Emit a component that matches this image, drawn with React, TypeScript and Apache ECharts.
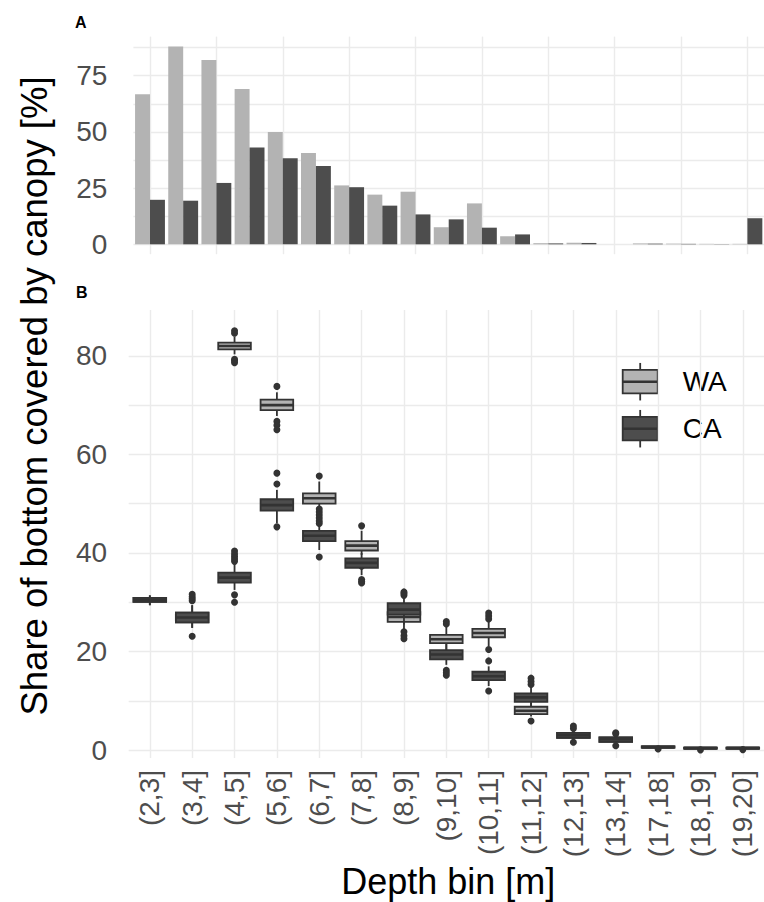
import React, { useEffect, useRef } from 'react';
import * as echarts from 'echarts';

// ---------- Panel A: share of bottom covered by canopy, per depth bin ----------
const topCategories = [
  '(2,3]', '(3,4]', '(4,5]', '(5,6]', '(6,7]', '(7,8]', '(8,9]', '(9,10]', '(10,11]', '(11,12]',
  '(12,13]', '(13,14]', '(14,15]', '(15,16]', '(16,17]', '(17,18]', '(18,19]', '(19,20]', '(20,21]',
];
const waShare = [66.7, 88.0, 82.0, 69.1, 50.0, 40.6, 26.2, 22.1, 23.4, 7.6, 18.2, 3.6, 0.5, 0.7, 0, 0.4, 0.3, 0.2, 0.2];
const caShare = [19.8, 19.4, 27.3, 43.1, 38.3, 34.8, 25.4, 17.2, 13.3, 11.1, 7.4, 4.4, 0.4, 0.6, 0, 0.3, 0.2, 0.1, 11.6];
const topTickLabels = [0, 25, 50, 75];
const topGridValues = [0, 12.5, 25, 37.5, 50, 62.5, 75, 87.5];

// ---------- Panel B: boxplots [low whisker, Q1, median, Q3, high whisker] ----------
const boxCategories = [
  '(2,3]', '(3,4]', '(4,5]', '(5,6]', '(6,7]', '(7,8]', '(8,9]', '(9,10]', '(10,11]', '(11,12]',
  '(12,13]', '(13,14]', '(17,18]', '(18,19]', '(19,20]',
];
const waBoxes = [
  [29.4, 30.1, 30.5, 30.9, 31.4],
  [24.8, 25.9, 26.9, 27.9, 29.4],
  [80.3, 81.3, 82.0, 82.7, 83.9],
  [67.8, 69.0, 70.0, 71.1, 72.6],
  [49.2, 50.0, 51.1, 52.1, 54.5],
  [39.6, 40.5, 41.5, 42.4, 44.5],
  [24.5, 26.0, 27.0, 28.0, 30.0],
  [20.0, 21.7, 22.5, 23.4, 25.0],
  [21.0, 22.9, 23.75, 24.6, 26.0],
  [6.8, 7.3, 8.0, 8.8, 9.6],
  [2.0, 2.5, 3.0, 3.5, 4.0],
  [1.2, 1.7, 2.2, 2.6, 3.0],
  [0.4, 0.5, 0.6, 0.75, 0.85],
  [0.2, 0.3, 0.4, 0.5, 0.6],
  [0.2, 0.3, 0.4, 0.5, 0.6],
];
const caBoxes = [
  [29.4, 30.1, 30.5, 30.9, 31.4],
  [24.8, 25.9, 26.9, 27.9, 29.4],
  [32.5, 34.0, 35.0, 36.0, 37.6],
  [46.0, 48.6, 49.7, 50.9, 52.8],
  [40.6, 42.4, 43.5, 44.5, 46.5],
  [35.5, 37.0, 38.0, 38.9, 40.0],
  [25.5, 27.5, 28.5, 29.8, 30.8],
  [17.3, 18.4, 19.4, 20.3, 21.5],
  [13.0, 14.2, 15.0, 15.9, 17.0],
  [9.0, 9.8, 10.7, 11.5, 12.6],
  [2.0, 2.5, 3.0, 3.5, 4.0],
  [1.2, 1.7, 2.2, 2.6, 3.0],
  [0.4, 0.5, 0.6, 0.75, 0.85],
  [0.2, 0.3, 0.4, 0.5, 0.6],
  [0.2, 0.3, 0.4, 0.5, 0.6],
];
// outliers as [category index, value]
const waOutliers = [
  [2, 84.6], [2, 85.1], [2, 79.3], [2, 78.6], [2, 79.0],
  [3, 73.8], [3, 66.7], [3, 65.9], [3, 65.0],
  [4, 55.6], [4, 48.9], [4, 48.3], [4, 47.7], [4, 47.1], [4, 46.5], [4, 46.0],
  [5, 45.5], [5, 37.3],
  [7, 26.1], [7, 25.6],
  [8, 26.6], [8, 27.2], [8, 27.8], [8, 20.4],
  [9, 5.9],
];
const caOutliers = [
  [1, 30.3], [1, 30.7], [1, 31.1], [1, 31.6], [1, 23.1],
  [2, 38.3], [2, 38.8], [2, 39.3], [2, 39.8], [2, 40.4], [2, 31.5], [2, 30.0],
  [3, 54.0], [3, 56.2], [3, 45.3],
  [4, 39.2],
  [5, 34.6], [5, 34.2], [5, 33.9],
  [6, 31.4], [6, 31.8], [6, 32.1], [6, 24.0], [6, 23.2], [6, 22.6],
  [7, 16.2], [7, 15.7], [7, 15.2],
  [8, 18.1], [8, 12.0],
  [9, 13.3], [9, 13.9], [9, 14.6],
  [10, 4.4], [10, 4.9], [10, 1.6],
  [11, 3.3], [11, 3.5], [11, 0.9],
  [12, 0.25], [13, 0.05], [14, 0.1],
];
const boxTickLabels = [0, 20, 40, 60, 80];
const boxGridValues = [0, 10, 20, 30, 40, 50, 60, 70, 80];

const seriesNames = ['WA', 'CA'];
const LIGHT = '#B3B3B3';
const DARK = '#4D4D4D';
const EDGE = '#333333';
const GRID = '#EBEBEB';
const FONT = '"Liberation Sans", Arial, Helvetica, sans-serif';

function boxRenderer(fill: string) {
  return (_params: any, api: any) => {
    const x = api.value(0);
    const low = api.coord([x, api.value(1)]);
    const q1 = api.coord([x, api.value(2)]);
    const med = api.coord([x, api.value(3)]);
    const q3 = api.coord([x, api.value(4)]);
    const high = api.coord([x, api.value(5)]);
    const bw = api.size([1, 0])[0] * 0.77;
    const cx = low[0];
    return {
      type: 'group',
      children: [
        { type: 'line', shape: { x1: cx, y1: high[1], x2: cx, y2: q3[1] }, style: { stroke: EDGE, lineWidth: 1.8 } },
        { type: 'line', shape: { x1: cx, y1: q1[1], x2: cx, y2: low[1] }, style: { stroke: EDGE, lineWidth: 1.8 } },
        {
          type: 'rect',
          shape: { x: cx - bw / 2, y: q3[1], width: bw, height: Math.max(q1[1] - q3[1], 0.5) },
          style: { fill, stroke: EDGE, lineWidth: 1.8 },
        },
        { type: 'line', shape: { x1: cx - bw / 2, y1: med[1], x2: cx + bw / 2, y2: med[1] }, style: { stroke: EDGE, lineWidth: 2.6 } },
      ],
    };
  };
}

function legendKey(y: number, fill: string, label: string) {
  const x0 = 622.7;
  const w = 35;
  const h = 23.5;
  const cx = x0 + w / 2;
  return [
    { type: 'line', shape: { x1: cx, y1: y - h / 2 - 7, x2: cx, y2: y + h / 2 + 7 }, style: { stroke: EDGE, lineWidth: 1.8 } },
    { type: 'rect', shape: { x: x0, y: y - h / 2, width: w, height: h }, style: { fill, stroke: EDGE, lineWidth: 1.8 } },
    { type: 'line', shape: { x1: x0, y1: y, x2: x0 + w, y2: y }, style: { stroke: EDGE, lineWidth: 2.4 } },
    {
      type: 'text',
      x: 682.7,
      y,
      style: { text: label, fontSize: 28, fontFamily: FONT, fill: '#000', textAlign: 'left', textVerticalAlign: 'middle' },
    },
  ];
}

export default function App() {
  const ref = useRef<HTMLDivElement>(null);

  useEffect(() => {
    if (!ref.current) return;
    const chart = echarts.init(ref.current, undefined, { renderer: 'svg' });

    const axisLabelStyle = { color: DARK, fontSize: 28, fontFamily: FONT };

    const option: any = {
      animation: false,
      backgroundColor: '#FFFFFF',
      grid: [
        { left: 133.4, top: 36.6, width: 632.1, height: 217.6 },
        { left: 128.65, top: 310, width: 640.5, height: 448 },
      ],
      xAxis: [
        {
          type: 'category',
          gridIndex: 0,
          data: topCategories,
          axisLine: { show: false },
          axisTick: { show: false, alignWithLabel: true },
          axisLabel: { show: false },
          splitLine: { show: true, alignWithLabel: true, lineStyle: { color: GRID, width: 1.4 } },
        },
        {
          type: 'category',
          gridIndex: 1,
          data: boxCategories,
          axisLine: { show: false },
          axisTick: { show: false, alignWithLabel: true },
          axisLabel: { ...axisLabelStyle, rotate: 90, margin: 12, interval: 0 },
          splitLine: { show: true, alignWithLabel: true, lineStyle: { color: GRID, width: 1.4 } },
        },
      ],
      yAxis: [
        {
          type: 'value',
          gridIndex: 0,
          min: -4.4,
          max: 92.4,
          axisLine: { show: false },
          axisTick: { show: false, customValues: topGridValues },
          axisLabel: { ...axisLabelStyle, margin: 26, customValues: topTickLabels },
          splitLine: { show: true, lineStyle: { color: GRID, width: 1.4 } },
        },
        {
          type: 'value',
          gridIndex: 1,
          min: -1.6,
          max: 89.3,
          axisLine: { show: false },
          axisTick: { show: false, customValues: boxGridValues },
          axisLabel: { ...axisLabelStyle, margin: 21.5, customValues: boxTickLabels },
          splitLine: { show: true, lineStyle: { color: GRID, width: 1.4 } },
        },
      ],
      series: [
        {
          name: seriesNames[0],
          type: 'bar',
          xAxisIndex: 0,
          yAxisIndex: 0,
          data: waShare,
          barGap: '0%',
          barCategoryGap: '10%',
          itemStyle: { color: LIGHT },
        },
        {
          name: seriesNames[1],
          type: 'bar',
          xAxisIndex: 0,
          yAxisIndex: 0,
          data: caShare,
          barGap: '0%',
          barCategoryGap: '10%',
          itemStyle: { color: DARK },
        },
        {
          name: seriesNames[0] + ' box',
          type: 'custom',
          xAxisIndex: 1,
          yAxisIndex: 1,
          renderItem: boxRenderer(LIGHT),
          encode: { x: 0, y: [1, 2, 3, 4, 5] },
          data: waBoxes.map((b, i) => [i, ...b]),
          z: 3,
        },
        {
          name: seriesNames[0] + ' outliers',
          type: 'scatter',
          xAxisIndex: 1,
          yAxisIndex: 1,
          data: waOutliers,
          symbol: 'circle',
          symbolSize: 7,
          itemStyle: { color: EDGE, opacity: 1 },
          z: 3,
        },
        {
          name: seriesNames[1] + ' box',
          type: 'custom',
          xAxisIndex: 1,
          yAxisIndex: 1,
          renderItem: boxRenderer(DARK),
          encode: { x: 0, y: [1, 2, 3, 4, 5] },
          data: caBoxes.map((b, i) => [i, ...b]),
          z: 4,
        },
        {
          name: seriesNames[1] + ' outliers',
          type: 'scatter',
          xAxisIndex: 1,
          yAxisIndex: 1,
          data: caOutliers,
          symbol: 'circle',
          symbolSize: 7,
          itemStyle: { color: EDGE, opacity: 1 },
          z: 4,
        },
      ],
      graphic: [
        {
          type: 'text',
          x: 75,
          y: 22,
          style: { text: 'A', fontSize: 16, fontWeight: 'bold', fontFamily: FONT, fill: '#000', textVerticalAlign: 'middle' },
        },
        {
          type: 'text',
          x: 76,
          y: 292.5,
          style: { text: 'B', fontSize: 16, fontWeight: 'bold', fontFamily: FONT, fill: '#000', textVerticalAlign: 'middle' },
        },
        {
          type: 'text',
          x: 34,
          y: 396,
          rotation: Math.PI / 2,
          style: {
            text: 'Share of bottom covered by canopy [%]',
            fontSize: 36.5,
            fontFamily: FONT,
            fill: '#000',
            textAlign: 'center',
            textVerticalAlign: 'middle',
          },
        },
        {
          type: 'text',
          x: 448.3,
          y: 881,
          style: {
            text: 'Depth bin [m]',
            fontSize: 36,
            fontFamily: FONT,
            fill: '#000',
            textAlign: 'center',
            textVerticalAlign: 'middle',
          },
        },
        ...legendKey(381.7, LIGHT, seriesNames[0]),
        ...legendKey(428.7, DARK, seriesNames[1]),
      ],
    };

    chart.setOption(option);
    return () => {
      chart.dispose();
    };
  }, []);

  return (
    <div
      ref={ref}
      style={{ position: 'fixed', left: 0, top: 0, width: 764, height: 902, background: '#fff' }}
    />
  );
}
